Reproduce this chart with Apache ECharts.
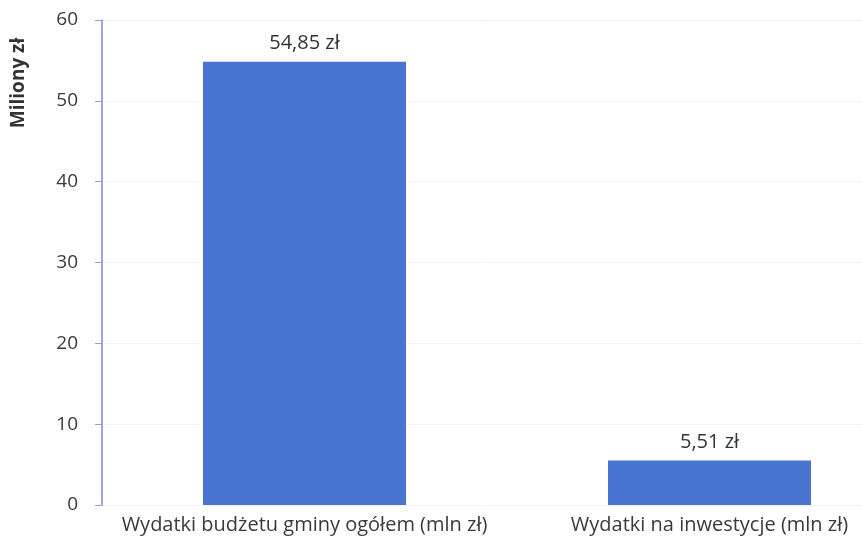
<!DOCTYPE html>
<html>
<head>
<meta charset="utf-8">
<script src="https://cdn.jsdelivr.net/npm/echarts@6/dist/echarts.min.js"></script>
<style>
  html, body { margin: 0; padding: 0; background: #fff; }
  #chart { width: 862px; height: 546px; }
</style>
</head>
<body>
<div id="chart"></div>
<script>
  var categories = ['Wydatki budżetu gminy ogółem (mln zł)', 'Wydatki na inwestycje (mln zł)'];
  var values = [54.85, 5.51];
  var yTicks = [0, 10, 20, 30, 40, 50, 60];

  var chart = echarts.init(document.getElementById('chart'));
  var font = '"Open Sans", "Liberation Sans", sans-serif';
  var option = {
    animation: false,
    grid: { left: 102, width: 810, top: 20, bottom: 41, outerBoundsMode: 'none' },
    xAxis: {
      type: 'category',
      data: categories,
      axisLine: { show: false },
      axisTick: { show: false },
      axisLabel: { color: '#3a3a3a', fontSize: 20, fontFamily: font, margin: 10, interval: 0, hideOverlap: false }
    },
    yAxis: {
      type: 'value',
      min: yTicks[0],
      max: yTicks[yTicks.length - 1],
      interval: 10,
      axisLine: { show: true, lineStyle: { color: '#8088c8', width: 1.5 } },
      axisTick: { show: true, length: 7, lineStyle: { color: '#9aa0cc' } },
      splitLine: { show: true, lineStyle: { color: '#f3f3f3' } },
      axisLabel: { color: '#3a3a3a', fontSize: 19, fontFamily: font, margin: 24 }
    },
    graphic: [{
      type: 'text',
      x: 9,
      y: 83,
      rotation: Math.PI / 2,
      style: {
        text: 'Miliony zł',
        fill: '#333',
        font: 'bold 19px ' + font,
        align: 'center',
        verticalAlign: 'top'
      }
    }],
    series: [{
      type: 'bar',
      data: values,
      barWidth: 203,
      itemStyle: { color: '#4a74d2' },
      label: {
        show: true,
        position: 'top',
        distance: 8,
        color: '#333',
        fontSize: 20,
        fontFamily: font,
        formatter: function (p) {
          return p.value.toFixed(2).replace('.', ',') + ' zł';
        }
      }
    }]
  };
  chart.setOption(option);
</script>
</body>
</html>
